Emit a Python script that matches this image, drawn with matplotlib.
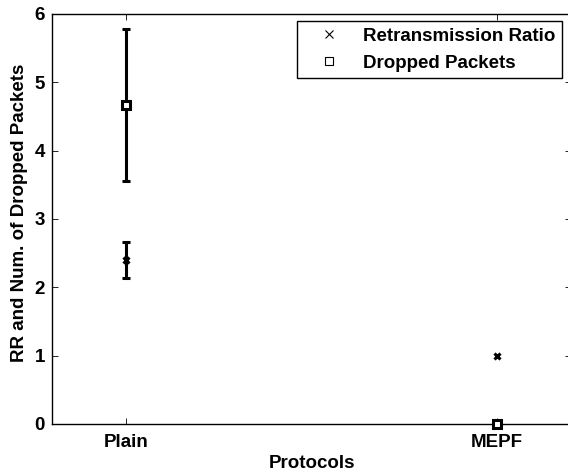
import matplotlib
matplotlib.use("Agg")
import matplotlib.pyplot as plt

plt.rcParams['font.family'] = ['Liberation Sans', 'DejaVu Sans']
plt.rcParams['font.weight'] = 'bold'

categories = ["Plain", "MEPF"]
x_pos = [1, 2]
rr_mean = [2.40, 1.00]
rr_err = [0.26, 0.0]
drop_mean = [4.67, 0.0]
drop_err = [1.11, 0.0]
y_ticks = [0, 1, 2, 3, 4, 5, 6]

FS = 13.5

fig = plt.figure(figsize=(5.68, 4.72), dpi=100)
ax = fig.add_axes([52/568, 48/472, 519/568, 410/472])

# error bars
ax.errorbar(x_pos[:1], drop_mean[:1], yerr=drop_err[:1], fmt='none', ecolor='black',
            elinewidth=2.2, capsize=3, capthick=2.2, zorder=2)
ax.errorbar(x_pos[:1], rr_mean[:1], yerr=rr_err[:1], fmt='none', ecolor='black',
            elinewidth=2.2, capsize=3, capthick=2.2, zorder=2)

# markers
ax.plot(x_pos, rr_mean, linestyle='none', marker='x', color='black', markersize=5,
        markeredgewidth=2.2, zorder=3)
ax.plot(x_pos, drop_mean, linestyle='none', marker='s', color='black', markersize=6,
        markerfacecolor='white', markeredgewidth=2.2, zorder=3, clip_on=False)

# legend proxies
h1, = ax.plot([], [], linestyle='none', marker='x', color='black', markersize=6,
              markeredgewidth=0.8, label='Retransmission Ratio')
h2, = ax.plot([], [], linestyle='none', marker='s', color='black', markersize=6,
              markerfacecolor='none', markeredgewidth=0.8, label='Dropped Packets')
leg = ax.legend(handles=[h1, h2], loc='upper right',
                bbox_to_anchor=(562/568, 1 - 21/472), bbox_transform=fig.transFigure,
                borderaxespad=0, fancybox=False, framealpha=1, edgecolor='black',
                prop={'weight': 'bold', 'size': FS}, handletextpad=0.4,
                borderpad=0.35, labelspacing=0.52, handlelength=2.8)
leg.get_frame().set_linewidth(1.0)

ax.set_xlim(0.8, 2.2)
ax.set_ylim(0, 6)
ax.set_xticks(x_pos)
ax.set_xticklabels(categories, fontsize=FS, fontweight='bold')
ax.set_yticks(y_ticks)
ax.set_yticklabels([str(t) for t in y_ticks], fontsize=FS, fontweight='bold')
ax.tick_params(direction='in', top=True, right=True, length=4, width=0.6, pad=5)
ax.tick_params(axis='x', pad=7)
for s in ax.spines.values():
    s.set_linewidth(1.0)

ax.set_xlabel('Protocols', fontsize=FS, fontweight='bold', labelpad=3)
ax.set_ylabel('RR and Num. of Dropped Packets', fontsize=FS, fontweight='bold')
ax.yaxis.set_label_coords(-24/519, 0.5 + 6/410)

fig.savefig('out.png', dpi=100)
